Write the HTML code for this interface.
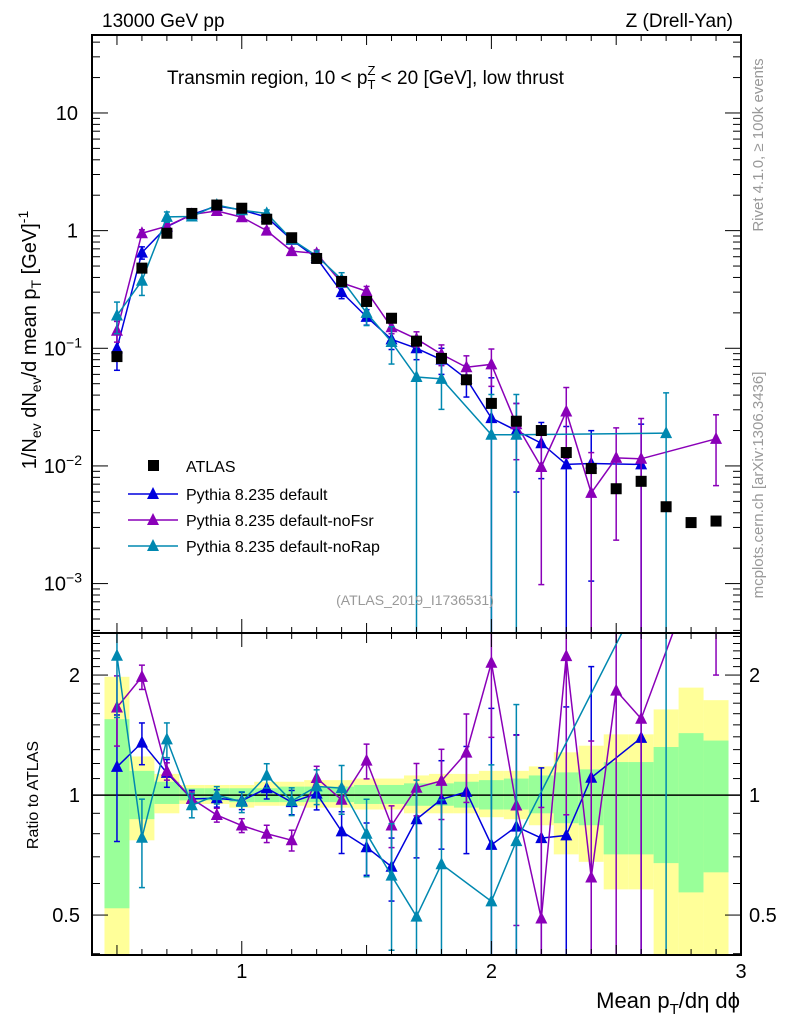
<!DOCTYPE html>
<html><head><meta charset="utf-8">
<style>
html,body{margin:0;padding:0;background:#fff;overflow:hidden;width:786px;height:1024px;position:relative;}
svg{display:block;font-family:"Liberation Sans",sans-serif;}
</style></head>
<body>
<svg id="plot" style="position:absolute;left:0;top:0" width="786" height="1024" viewBox="0 0 786 1024" xmlns="http://www.w3.org/2000/svg"></svg>
<script>
const xCenters=[0.5,0.6,0.7,0.8,0.9,1.0,1.1,1.2,1.3,1.4,1.5,1.6,1.7,1.8,1.9,2.0,2.1,2.2,2.3,2.4,2.5,2.6,2.7,2.8,2.9];
const atlasVals=[0.085,0.48,0.95,1.4,1.65,1.55,1.25,0.87,0.58,0.37,0.25,0.18,0.115,0.082,0.054,0.034,0.024,0.020,0.013,0.0095,0.0064,0.0074,0.0045,0.0033,0.0034];
const defaultVals=[0.100,0.65,1.08,1.37,1.62,1.50,1.30,0.835,0.585,0.30,0.185,0.119,0.100,0.080,0.055,0.0255,0.020,0.0156,0.0103,0.0105,null,0.0103,null,null,null];
const defaultErr=[0.35,0.12,0.08,0.05,0.05,0.05,0.06,0.07,0.09,0.12,0.15,0.18,0.2,0.25,0.3,1.2,0.7,0.5,1.1,0.9,null,1.2,null,null,null];
const noFsrVals=[0.141,0.95,1.09,1.37,1.47,1.30,1.00,0.67,0.64,0.36,0.305,0.151,0.12,0.089,0.069,0.073,0.0226,0.0098,0.029,0.0059,0.0117,0.0115,null,null,0.017];
const noFsrErr=[0.2,0.07,0.05,0.04,0.04,0.04,0.05,0.06,0.07,0.08,0.1,0.12,0.15,0.2,0.25,0.35,0.5,0.9,0.6,1.2,0.8,1.2,null,null,0.6];
const noRapVals=[0.19,0.375,1.31,1.32,1.65,1.49,1.40,0.84,0.61,0.385,0.20,0.113,0.057,0.055,null,0.0184,0.0184,null,null,null,null,null,0.019,null,null];
const noRapErr=[0.3,0.25,0.1,0.07,0.05,0.06,0.07,0.08,0.1,0.14,0.22,0.35,1.2,0.45,null,1.2,1.2,null,null,null,null,null,1.2,null,null];
const bandYellowHi=[1.98,1.25,1.13,1.06,1.06,1.06,1.08,1.08,1.09,1.09,1.1,1.1,1.12,1.13,1.13,1.15,1.15,1.18,1.28,1.33,1.42,1.42,1.64,1.86,1.73];
const bandYellowLo=[0.3,0.77,0.9,0.95,0.95,0.93,0.94,0.94,0.93,0.93,0.92,0.92,0.9,0.9,0.9,0.88,0.87,0.84,0.71,0.68,0.58,0.58,0.3,0.3,0.3];
const bandGreenHi=[1.55,1.15,1.08,1.04,1.04,1.04,1.04,1.05,1.05,1.05,1.06,1.06,1.07,1.07,1.08,1.09,1.1,1.12,1.14,1.16,1.21,1.21,1.32,1.43,1.37];
const bandGreenLo=[0.52,0.87,0.95,0.97,0.97,0.96,0.96,0.96,0.96,0.96,0.95,0.95,0.94,0.94,0.93,0.92,0.92,0.9,0.85,0.84,0.71,0.71,0.675,0.57,0.64];
const xTickLabels=[1,2,3];
const yTopTickLabels=[[10,"10"],[1,"1"],[0.1,"10<tspan dy='-8' font-size='14'>−1</tspan>"],[0.01,"10<tspan dy='-8' font-size='14'>−2</tspan>"],[0.001,"10<tspan dy='-8' font-size='14'>−3</tspan>"]];
const yRatioTickLabels=[0.5,1,2];

const svg=document.getElementById('plot');
const NS="http://www.w3.org/2000/svg";
const L=92,R=741,T1=35,B1=633,T2=633,B2=955;
const X=v=>L+(v-0.4)/2.6*(R-L);
const lt1=Math.log10(46),lb1=-3.42;
const Y1=v=>T1+(lt1-Math.log10(v))/(lt1-lb1)*(B1-T1);
const lt2=Math.log10(2.55),lb2=Math.log10(0.397);
const Y2=v=>T2+(lt2-Math.log10(v))/(lt2-lb2)*(B2-T2);
const clamp=(v,a,b)=>Math.max(a,Math.min(b,v));
function el(tag,attrs,parent){const e=document.createElementNS(NS,tag);for(const k in attrs)e.setAttribute(k,attrs[k]);(parent||svg).appendChild(e);return e;}

const defs=el('defs',{});
const c1=el('clipPath',{id:'c1'},defs);el('rect',{x:L,y:T1,width:R-L,height:B1-T1},c1);
const c2=el('clipPath',{id:'c2'},defs);el('rect',{x:L,y:T2,width:R-L,height:B2-T2},c2);

const bandG=el('g',{'clip-path':'url(#c2)'});


xCenters.forEach((x,i)=>{
  const x0=X(x-0.05),x1=X(x+0.05);
  const yh=clamp(Y2(bandYellowHi[i]),T2,B2),yl=clamp(Y2(bandYellowLo[i]),T2,B2);
  const yr=el('rect',{x:x0,y:yh,width:x1-x0,height:yl-yh,fill:'#ffff99'},bandG);
  
  
  const gh=clamp(Y2(bandGreenHi[i]),T2,B2),gl=clamp(Y2(bandGreenLo[i]),T2,B2);
  const gr=el('rect',{x:x0,y:gh,width:x1-x0,height:gl-gh,fill:'#99ff99'},bandG);
  
  
});
el('line',{x1:L,x2:R,y1:Y2(1),y2:Y2(1),stroke:'#000','stroke-width':1.5});

function tri(g,x,y,c){return el('path',{d:`M${x-6},${y+5}L${x+6},${y+5}L${x},${y-7}Z`,fill:c},g);}

const series=[
 {vals:defaultVals,err:defaultErr,color:'#0000dd',name:'pythia-default'},
 {vals:noFsrVals,err:noFsrErr,color:'#8a00b8',name:'pythia-nofsr'},
 {vals:noRapVals,err:noRapErr,color:'#0088b0',name:'pythia-norap'}
];
series.forEach(s=>{
  const g=el('g',{'clip-path':'url(#c1)'});
  
  
  const pts=[];
  xCenters.forEach((x,i)=>{if(s.vals[i]!=null)pts.push([X(x),Y1(s.vals[i]),i]);});
  el('polyline',{points:pts.map(p=>p[0]+','+p[1]).join(' '),fill:'none',stroke:s.color,'stroke-width':1.5},g);
  pts.forEach(p=>{
    const v=s.vals[p[2]],e=s.err[p[2]];
    const hi=clamp(Y1(v*(1+e)),T1,B1),lo=(v*(1-e)>0)?clamp(Y1(v*(1-e)),T1,B1+5):B1+5;
    el('line',{x1:p[0],x2:p[0],y1:hi,y2:lo,stroke:s.color,'stroke-width':1.5},g);
    el('line',{x1:p[0]-3,x2:p[0]+3,y1:hi,y2:hi,stroke:s.color,'stroke-width':1.5},g);
    if(lo<B1)el('line',{x1:p[0]-3,x2:p[0]+3,y1:lo,y2:lo,stroke:s.color,'stroke-width':1.5},g);
    const m=tri(g,p[0],p[1],s.color);
    
    
  });
});
const ag=el('g',{'clip-path':'url(#c1)'});


xCenters.forEach((x,i)=>{
  const r=el('rect',{x:X(x)-5.5,y:Y1(atlasVals[i])-5.5,width:11,height:11,fill:'#000'},ag);
  
  
});
series.forEach(s=>{
  const g=el('g',{'clip-path':'url(#c2)'});
  
  
  const pts=[];
  xCenters.forEach((x,i)=>{if(s.vals[i]!=null)pts.push([X(x),Y2(s.vals[i]/atlasVals[i]),i]);});
  el('polyline',{points:pts.map(p=>p[0]+','+p[1]).join(' '),fill:'none',stroke:s.color,'stroke-width':1.5},g);
  pts.forEach(p=>{
    const r=s.vals[p[2]]/atlasVals[p[2]],e=s.err[p[2]];
    const hi=clamp(Y2(r*(1+e)),T2-5,B2+5),lo=(r*(1-e)>0)?clamp(Y2(r*(1-e)),T2-5,B2+5):B2+5;
    el('line',{x1:p[0],x2:p[0],y1:hi,y2:lo,stroke:s.color,'stroke-width':1.5},g);
    el('line',{x1:p[0]-3,x2:p[0]+3,y1:hi,y2:hi,stroke:s.color,'stroke-width':1.5},g);
    el('line',{x1:p[0]-3,x2:p[0]+3,y1:lo,y2:lo,stroke:s.color,'stroke-width':1.5},g);
    const m=tri(g,p[0],p[1],s.color);
    
    
  });
});

el('rect',{x:L,y:T1,width:R-L,height:B1-T1,fill:'none',stroke:'#000','stroke-width':2});
el('rect',{x:L,y:T2,width:R-L,height:B2-T2,fill:'none',stroke:'#000','stroke-width':2});

for(let k=4;k<=30;k++){
  const v=k/10,x=X(v);const len=(k%10===0)?14:(k%5===0?10:6);
  [[T1,1],[B1,-1],[T2,1],[B2,-1]].forEach(([y,d])=>el('line',{x1:x,x2:x,y1:y,y2:y+d*len,stroke:'#000','stroke-width':1}));
}
xTickLabels.forEach(v=>{
  const t=el('text',{x:X(v),y:978,'font-size':20,'text-anchor':'middle'});t.textContent=v;
  
  
});
for(let d=-4;d<=1;d++){for(let m=1;m<=9;m++){const v=m*Math.pow(10,d);const y=Y1(v);if(y<T1||y>B1)continue;const len=m===1?16:8;
  el('line',{x1:L,x2:L+len,y1:y,y2:y,stroke:'#000'});el('line',{x1:R,x2:R-len,y1:y,y2:y,stroke:'#000'});}}
yTopTickLabels.forEach(([v,s])=>{
  const t=el('text',{x:v>=1?78:82,y:Y1(v)+7,'font-size':20,'text-anchor':'end'});t.innerHTML=s;
  
  
});
for(let k=4;k<=25;k++){const v=k/10;const y=Y2(v);if(y<T2||y>B2)continue;const major=(k===5||k===10||k===20);const len=major?16:8;
  el('line',{x1:L,x2:L+len,y1:y,y2:y,stroke:'#000'});el('line',{x1:R,x2:R-len,y1:y,y2:y,stroke:'#000'});}
yRatioTickLabels.forEach(v=>{
  const a=el('text',{x:80,y:Y2(v)+7,'font-size':20,'text-anchor':'end'});a.textContent=v;
  
  
  const b=el('text',{x:749,y:Y2(v)+7,'font-size':20,'text-anchor':'start'});b.textContent=v;
  
  
});

const lg=el('g',{});


el('rect',{x:148,y:460,width:11,height:11,fill:'#000'},lg);
const lt=el('text',{x:186,y:472,'font-size':16},lg);lt.textContent='ATLAS';
const lnames=['Pythia 8.235 default','Pythia 8.235 default-noFsr','Pythia 8.235 default-noRap'];
series.forEach((s,i)=>{
  const y=494+i*26;
  el('line',{x1:128,x2:178,y1:y,y2:y,stroke:s.color,'stroke-width':1.5},lg);
  tri(lg,153,y,s.color);
  const t=el('text',{x:186,y:y+6,'font-size':16},lg);t.textContent=lnames[i];
  
  
});
</script>
<svg style="position:absolute;left:0;top:0" width="786" height="1024">
<text x="102" y="27" font-size="19" font-family="Liberation Sans">13000 GeV pp</text>
<text x="733" y="27" font-size="19" text-anchor="end" font-family="Liberation Sans">Z (Drell-Yan)</text>
<text x="167" y="84" font-size="19" font-family="Liberation Sans">Transmin region, 10 &lt; p<tspan font-size="13" dy="5">T</tspan><tspan font-size="13" dx="-8" dy="-14">Z</tspan><tspan dy="9"> &lt; 20 [GeV], low thrust</tspan></text>
<text x="415" y="605" font-size="14" fill="#999" text-anchor="middle" font-family="Liberation Sans">(ATLAS_2019_I1736531)</text>
<text transform="translate(36,340) rotate(-90)" font-size="20" text-anchor="middle" font-family="Liberation Sans">1/N<tspan font-size="14" dy="5">ev</tspan><tspan dy="-5"> dN</tspan><tspan font-size="14" dy="5">ev</tspan><tspan dy="-5">/d mean p</tspan><tspan font-size="14" dy="5">T</tspan><tspan dy="-5"> [GeV]</tspan><tspan font-size="14" dy="-8">-1</tspan></text>
<text transform="translate(38,795) rotate(-90)" font-size="16" text-anchor="middle" font-family="Liberation Sans">Ratio to ATLAS</text>
<text x="740" y="1008" font-size="22" text-anchor="end" font-family="Liberation Sans">Mean p<tspan font-size="15" dy="6">T</tspan><tspan dy="-6">/dη dϕ</tspan></text>
<text transform="translate(763,145) rotate(-90)" font-size="15" fill="#999" text-anchor="middle" font-family="Liberation Sans">Rivet 4.1.0, ≥ 100k events</text>
<text transform="translate(763,485) rotate(-90)" font-size="15" fill="#999" text-anchor="middle" font-family="Liberation Sans">mcplots.cern.ch [arXiv:1306.3436]</text>
</svg>
</body></html>
